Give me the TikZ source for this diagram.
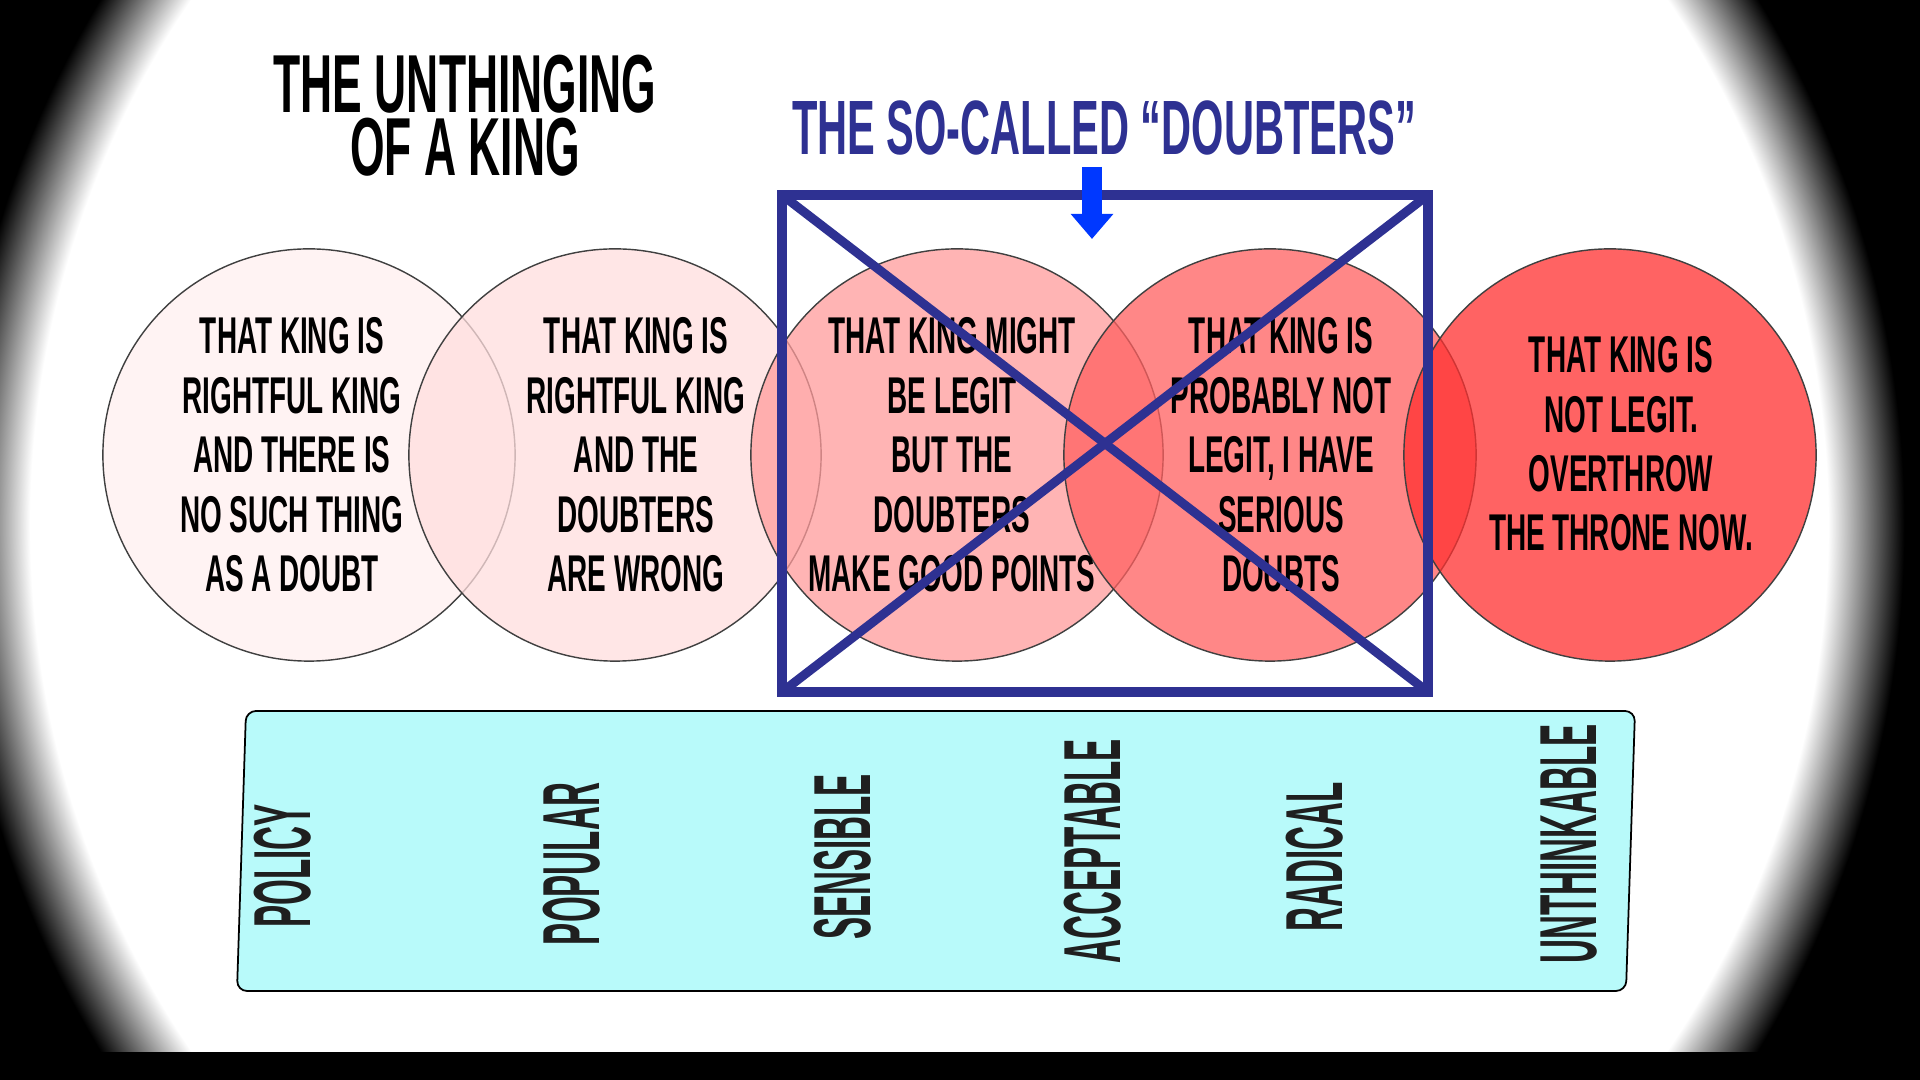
\documentclass[tikz,border=0pt]{standalone}
\usepackage{fontspec}
\usetikzlibrary{arrows.meta}
\newfontfamily\bebas{Liberation Sans Bold}[FakeStretch=0.54]
\newfontfamily\tallfont{Liberation Sans Bold}[FakeStretch=0.41]
\definecolor{doubtblue}{RGB}{46,49,146}
\definecolor{arrowblue}{RGB}{0,56,255}
\definecolor{bandcyan}{RGB}{184,250,250}
\definecolor{redA}{RGB}{255,240,240}
\definecolor{redB}{RGB}{255,222,222}
\definecolor{redC}{RGB}{255,156,156}
\definecolor{redD}{RGB}{255,96,96}
\definecolor{redE}{RGB}{255,48,48}
\pgfdeclareradialshading{vignette}{\pgfpoint{0bp}{0bp}}{color(0bp)=(white); color(21.2bp)=(white); color(23bp)=(black); color(50bp)=(black)}

\begin{document}
\begin{tikzpicture}[x=0.01cm, y=-0.01cm,
        bubble/.style={circle, draw=black!75, line width=0.4pt, fill opacity=0.75, minimum size=4.12cm, inner sep=0pt},
        claim/.style={align=center, font=\bebas\fontsize{14.7}{16.9}\selectfont},
        band/.style={draw=black, line width=0.5pt, fill=bandcyan, rounded corners=0.1cm},
        tag/.style={rotate=90, font=\tallfont\fontsize{23}{27}\selectfont, text=black!88},
        crossbox/.style={draw=doubtblue, line width=0.1cm, outer sep=0pt, inner sep=0pt},
        cross/.style={doubtblue, line width=0.09cm},
        pointer/.style={-{Triangle[length=0.25cm, width=0.41cm]}, line width=0.2cm, arrowblue}
    ]
        % backdrop with vignette
        \useasboundingbox (0,0) rectangle (1920,1080);
        \fill[black] (0,0) rectangle (1920,1080);
        \begin{scope}
            \clip (0,0) rectangle (1920,1080);
            \shade[shading=vignette] (-131,-560) rectangle (1989,1610);
        \end{scope}
        \fill[black] (0,1052) rectangle (1920,1080);

        % titles
        \node[align=center, font=\bebas\fontsize{23.4}{20}\selectfont] (title) at (465,116) {THE UNTHINGING\\[-2pt]OF A KING};
        \node[font=\bebas\fontsize{21.9}{26}\selectfont, text=doubtblue] (doubtlabel) at (1104,128) {THE SO-CALLED “DOUBTERS”};

        % circles
        \node[bubble, fill=redA] (c1) at (309,455) {};
        \node[bubble, fill=redB] (c2) at (615,455) {};
        \node[bubble, fill=redC] (c3) at (957,455) {};
        \node[bubble, fill=redD] (c4) at (1270,455) {};
        \node[bubble, fill=redE] (c5) at (1610,455) {};

        \node[claim] (t1) at (292,455) {THAT KING IS\\RIGHTFUL KING\\AND THERE IS\\NO SUCH THING\\AS A DOUBT};
        \node[claim] (t2) at (636,455) {THAT KING IS\\RIGHTFUL KING\\AND THE\\DOUBTERS\\ARE WRONG};
        \node[claim] (t3) at (952,455) {THAT KING MIGHT\\BE LEGIT\\BUT THE\\DOUBTERS\\MAKE GOOD POINTS};
        \node[claim] (t4) at (1281,455) {THAT KING IS\\PROBABLY NOT\\LEGIT, I HAVE\\SERIOUS\\DOUBTS};
        \node[claim] (t5) at (1621,444) {THAT KING IS\\NOT LEGIT.\\OVERTHROW\\THE THRONE NOW.};

        % the crossed-out box
        \node[crossbox, minimum width=6.46cm, minimum height=4.97cm] (doubters) at (1105,443.5) {};
        \draw[cross] (doubters.north west) -- (doubters.south east);
        \draw[cross] (doubters.north east) -- (doubters.south west);
        \coordinate (arrowtop) at (1092,167);
        \coordinate (arrowtip) at (1092,239);
        \draw[pointer] (arrowtop) -- (arrowtip);

        % scale band
        \draw[band] (246,711) -- (1635,711) -- (1626,991) -- (237,991) -- cycle;
        \node[tag] (l1) at (283,866) {POLICY};
        \node[tag] (l2) at (572,864) {POPULAR};
        \node[tag] (l3) at (843,857) {SENSIBLE};
        \node[tag] (l4) at (1093,851) {ACCEPTABLE};
        \node[tag] (l5) at (1315,857) {RADICAL};
        \node[tag] (l6) at (1569,844) {UNTHINKABLE};
    \end{tikzpicture}
\end{document}
